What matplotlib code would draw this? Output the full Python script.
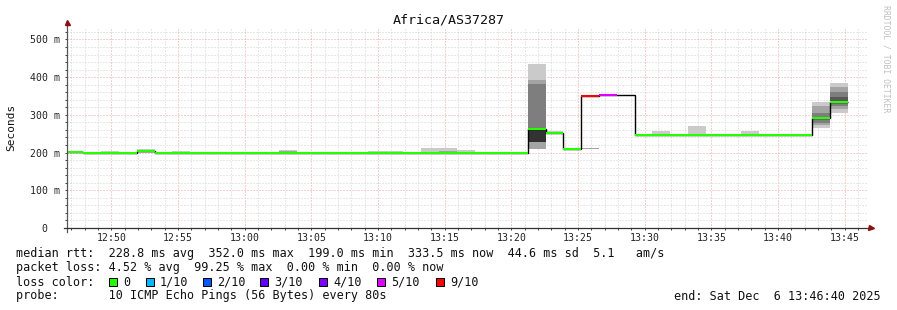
import numpy as np
import matplotlib
matplotlib.use("Agg")
import matplotlib.pyplot as plt
import matplotlib.dates as mdates
from matplotlib.ticker import MultipleLocator, FuncFormatter
from matplotlib.patches import Rectangle
from datetime import datetime, timedelta

plt.rcParams['font.family'] = ['DejaVu Sans Mono']

W, H = 897, 310

title = "Africa/AS37287"
t_begin = datetime(2025, 12, 6, 12, 46, 40)
t_end = datetime(2025, 12, 6, 13, 46, 40)
first_step = datetime(2025, 12, 6, 12, 46, 34)
step_seconds = 80
pings_per_step = 10

# median rtt per 80 s step (ms), last step not yet measured
median_ms = [201, 199, 199, 199, 203, 199, 199, 199, 199, 199,
             199, 199, 199, 199, 199, 199, 199, 199, 199, 199,
             199, 199, 199, 199, 199, 199, 262, 251, 210, 351,
             354, 352, 247, 247, 247, 247, 247, 247, 247, 247,
             247, 247, 293, 334, np.nan]
# lost pings out of 10 per step
lost_pings = [0, 0, 0, 0, 0, 0, 0, 0, 0, 0,
              0, 0, 0, 0, 0, 0, 0, 0, 0, 0,
              0, 0, 0, 0, 0, 0, 0, 0, 0, 9,
              5, 10, 0, 0, 0, 0, 0, 0, 0, 0,
              0, 0, 0, 0, np.nan]

# steps that show smoke, and their sorted ping times (ms)
smoke_step = [2, 4, 6, 12, 17, 18, 20, 21, 22, 26, 27, 29, 33, 35, 38, 42, 43]
smoke_pings = [
    [199, 199, 199, 199, 199, 199, 199, 199, 199, 204],
    [200, 201, 202, 203, 203, 203, 204, 205, 207, 209],
    [199, 199, 199, 199, 199, 199, 199, 199, 199, 203],
    [199, 199, 199, 199, 199, 199, 199, 201, 204, 207],
    [199, 199, 199, 199, 199, 199, 199, 199, 199, 204],
    [199, 199, 199, 199, 199, 199, 199, 199, 199, 204],
    [199, 199, 199, 199, 199, 199, 199, 200, 201, 212],
    [199, 199, 199, 199, 199, 199, 200, 202, 204, 212],
    [199, 199, 199, 199, 199, 199, 199, 199, 199, 207],
    [210, 210, 228, 228, 228, 263, 263, 382, 393, 435],
    [249, 250, 250, 251, 251, 251, 251, 252, 252, 256],
    [208.8, 209.2, 209.4, 210.8, 211, 211.2],
    [247, 247, 247, 247, 247, 247, 247, 247, 247, 257],
    [247, 247, 247, 247, 247, 247, 247, 247, 247, 270],
    [247, 247, 247, 247, 247, 247, 247, 247, 247, 258],
    [266, 273, 279, 288, 290, 293, 295, 306, 324, 335],
    [306, 315, 324, 331, 333, 335, 347, 360, 373, 384],
]

loss_levels = [0, 1, 2, 3, 4, 5, 9]
loss_labels = ["0", "1/10", "2/10", "3/10", "4/10", "5/10", "9/10"]
loss_colors = ["#26ff00", "#00b8ff", "#0059ff", "#5e00ff", "#7e00ff", "#dd00ff", "#ff0000"]

median_line = "median rtt:  228.8 ms avg  352.0 ms max  199.0 ms min  333.5 ms now  44.6 ms sd  5.1   am/s"
loss_line = "packet loss: 4.52 % avg  99.25 % max  0.00 % min  0.00 % now"
probe_line = "probe:       10 ICMP Echo Pings (56 Bytes) every 80s"
end_line = "end: Sat Dec  6 13:46:40 2025"


def fx(x):
    return x / W


def fy(y):
    return 1 - y / H


fig = plt.figure(figsize=(W / 100, H / 100), dpi=100)
ax = fig.add_axes([fx(67), fy(228), 800 / W, (228 - 27) / H])

edges = [mdates.date2num(first_step + timedelta(seconds=step_seconds * k))
         for k in range(len(median_ms) + 1)]

# smoke: nested bands between ping i and ping n-1-i, darker towards the middle
half = pings_per_step / 2
for s, pings in zip(smoke_step, smoke_pings):
    p = sorted(pings)
    n = len(p)
    for i in range(n // 2):
        grey = int(190 / half * (half - 1 - i)) + 50
        ax.bar(edges[s], p[n - 1 - i] - p[i], bottom=p[i],
               width=edges[s + 1] - edges[s], align='edge',
               color='#' + ('%02x' % grey) * 3, linewidth=0, zorder=2)

# black median outline
med = np.array(median_ms, dtype=float)
valid = ~np.isnan(med)
nv = int(valid.sum())
ax.stairs(med[:nv], edges[:nv + 1], color='black', lw=1.0, baseline=None, zorder=3)

# median coloured by loss
for k in range(nv):
    loss = lost_pings[k]
    if loss >= pings_per_step:
        continue
    ci = max(j for j, lv in enumerate(loss_levels) if lv <= loss)
    ax.hlines(med[k], edges[k], edges[k + 1], color=loss_colors[ci], lw=1.5, zorder=4)

ax.set_xlim(mdates.date2num(t_begin), mdates.date2num(t_end))
ax.set_ylim(0, 533)

ax.xaxis.set_major_locator(mdates.MinuteLocator(byminute=range(0, 60, 5)))
ax.xaxis.set_minor_locator(mdates.MinuteLocator())
ax.xaxis.set_major_formatter(mdates.DateFormatter('%H:%M'))
ax.yaxis.set_major_locator(MultipleLocator(100))
ax.yaxis.set_minor_locator(MultipleLocator(20))
ax.yaxis.set_major_formatter(FuncFormatter(lambda v, p: f"{int(v)} m" if v else "0  "))

ax.grid(which='minor', color='#d2d2d2', ls=(0, (1, 2)), lw=0.72)
ax.grid(which='major', color='#eea0a0', ls=(0, (1, 2)), lw=0.72)
ax.set_axisbelow(True)

ax.tick_params(which='both', direction='out', color='#444444', width=0.72,
               labelsize=7.1, labelcolor='#222222')
ax.tick_params(axis='y', which='both', length=1.5, pad=3.5)
ax.tick_params(axis='x', which='both', length=1.5, pad=2.0)

for sp in ax.spines.values():
    sp.set_visible(False)

# axis lines with arrows
ax.plot([0, 0], [-0.02, 1.02], transform=ax.transAxes, color='#555555',
        lw=0.9, clip_on=False, zorder=5)
ax.plot([-0.004, 1.004], [0, 0], transform=ax.transAxes, color='#333333',
        lw=0.9, clip_on=False, zorder=5)
ax.plot([0], [1 + 5 / 201], marker='^', ms=3.6, color='#8b1010',
        transform=ax.transAxes, clip_on=False, zorder=6)
ax.plot([1 + 4 / 800], [0], marker='>', ms=3.6, color='#8b1010',
        transform=ax.transAxes, clip_on=False, zorder=6)

fig.text(0.5, fy(20), title, ha='center', va='center', fontsize=9.6, color='#111111')
fig.text(fx(11), fy(127), "Seconds", rotation=90, ha='center', va='center',
         fontsize=8, color='#111111')
fig.text(fx(886), fy(59), "RRDTOOL / TOBI OETIKER", rotation=270, ha='center',
         va='center', fontsize=5.9, color='#c0c0c0')

fs = 8.45
fig.text(fx(16), fy(254), median_line, va='center', fontsize=fs, color='#111111')
fig.text(fx(16), fy(268), loss_line, va='center', fontsize=fs, color='#111111')
fig.text(fx(16), fy(282), "loss color:", va='center', fontsize=fs, color='#111111')
fig.text(fx(16), fy(296), probe_line, va='center', fontsize=fs, color='#111111')
fig.text(fx(881), fy(296), end_line, ha='right', va='center', fontsize=fs, color='#111111')

box_x = [109, 146, 203, 260, 319, 377, 436]
for bx, lab, col in zip(box_x, loss_labels, loss_colors):
    fig.patches.append(Rectangle((fx(bx), fy(286)), 8 / W, 8 / H, transform=fig.transFigure,
                                 facecolor=col, edgecolor='black', lw=0.72))
    fig.text(fx(bx + 14), fy(282), lab, va='center', fontsize=fs, color='#111111')

fig.savefig("out.png", dpi=100)
